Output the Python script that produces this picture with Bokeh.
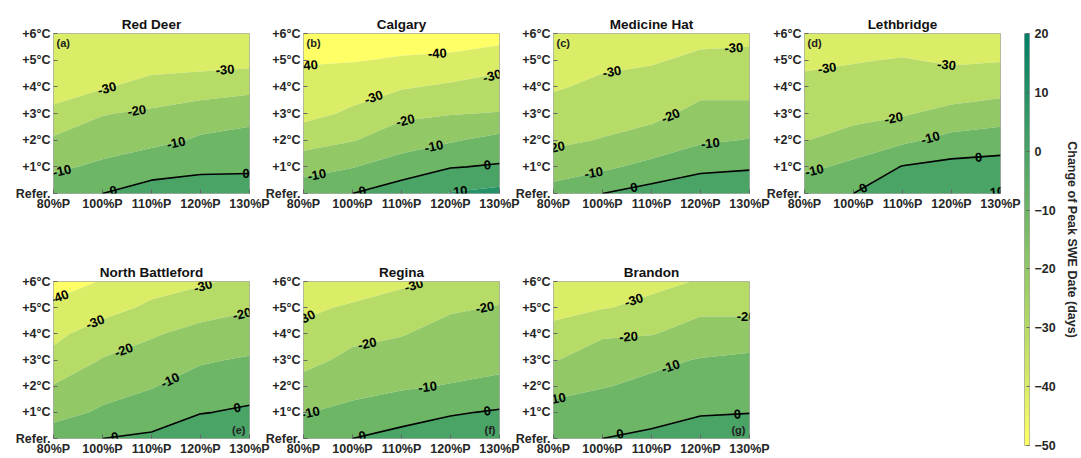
import math
import numpy as np
from bokeh.plotting import figure
from bokeh.layouts import row, column
from bokeh.models import FixedTicker, Label, LinearColorMapper, ColumnDataSource
from bokeh.embed import file_html
from bokeh.resources import INLINE
from bokeh.core.properties import value

FONT = "Liberation Sans"

precip_labels = ["80%P", "100%P", "110%P", "120%P", "130%P"]
temp_labels = ["Refer.", "+1°C", "+2°C", "+3°C", "+4°C", "+5°C", "+6°C"]
levels = [-50, -40, -30, -20, -10, 0, 10, 20]
cbar_ticks = [-50, -40, -30, -20, -10, 0, 10, 20]

# Change of peak SWE date (days); each inner list = one precipitation scenario,
# values for Refer., +1 .. +6 degC
red_deer = [
    [-3, -12, -18.5, -28, -34, -36, -38],
    [0, -8, -15, -20.5, -31, -35, -38],
    [4, -4, -12.5, -18.5, -26, -35, -38],
    [5, -2, -9, -14, -26, -33, -37],
    [6, -2, -7, -13, -23, -33, -37],
]
calgary = [
    [-4, -14, -24, -33, -36, -41, -44],
    [0, -10.5, -20.5, -28.5, -34, -40.5, -44],
    [5, -5, -15, -22, -31, -39, -45],
    [10.5, -0.5, -11, -20.5, -28.5, -38, -45],
    [13, 1, -7, -19.5, -27.5, -32.5, -46],
]
medicine_hat = [
    [-6, -15, -22, -26, -31, -34, -37],
    [0, -12, -19.5, -24, -28, -32, -36],
    [4, -7, -17, -22, -26, -31, -35],
    [6, -2, -11.5, -18, -22, -28, -33],
    [7, -1, -9.5, -17, -23, -28, -32],
]
lethbridge = [
    [-3, -12, -20.5, -25, -28, -31.5, -35],
    [0, -8, -15, -24, -27, -30.5, -34],
    [8, 0.5, -12, -21, -26, -29.5, -34],
    [9, 3, -7, -17, -26, -31, -35],
    [10.5, 3, -4, -16, -23, -30.5, -34],
]
north_battleford = [
    [-4, -14, -19.5, -27, -32.5, -38, -44],
    [0, -8.5, -14, -19.5, -25, -34, -39.5],
    [2, -6, -10.5, -16, -21, -28, -34.5],
    [8, -0.5, -6, -11, -17, -24, -31.5],
    [9, 1.5, -4, -9, -15, -21, -27],
]
regina = [
    [-2, -10.5, -17, -22.5, -28, -31.5, -35],
    [0, -7.5, -13, -18, -22, -29, -34],
    [4, -5, -11, -16, -20.5, -25, -32],
    [6, -1, -9.5, -14, -17, -21, -28],
    [8, 1, -7.5, -13, -16, -19.5, -24],
]
brandon = [
    [-2, -7, -13, -20.5, -27, -33, -37],
    [0, -5, -10.5, -16, -21, -30.5, -34],
    [3, -5, -8, -12, -20.5, -28, -32],
    [6, -1, -5, -9.5, -16, -22, -29.5],
    [7, -0.3, -4, -8.5, -14, -23, -26],
]

# contour label placement: (level, precipitation position)
red_deer_labels = [(-10, 0.17), (0, 1.22), (-30, 1.09), (-20, 1.7), (-10, 2.5), (-30, 3.5), (0, 3.93)]
calgary_labels = [(-10, 0.27), (0, 1.2), (-40, 0.1), (-30, 1.43), (-20, 2.08), (-10, 2.66),
                  (-40, 2.73), (-30, 3.85), (0, 3.75), (10, 3.2)]
medicine_hat_labels = [(-20, 0.04), (-10, 0.82), (0, 1.64), (-30, 1.19), (-20, 2.39), (-10, 3.2), (-30, 3.68)]
lethbridge_labels = [(-10, 0.2), (0, 1.2), (-30, 0.46), (-20, 1.82), (-10, 2.57), (-30, 2.9), (0, 3.55), (10, 3.93)]
north_battleford_labels = [(-40, 0.12), (-30, 0.85), (-20, 1.43), (-10, 2.38), (-30, 3.05), (-20, 3.85),
                           (0, 1.25), (0, 3.75)]
regina_labels = [(-10, 0.14), (-30, 0.05), (0, 1.2), (-20, 1.3), (-30, 2.25), (-10, 2.53), (-20, 3.7), (0, 3.75)]
brandon_labels = [(-10, 0.06), (0, 1.36), (-30, 1.64), (-20, 1.53), (-10, 2.39), (-20, 3.93), (0, 3.75)]


def summer_r(v):
    t = (20.0 - v) / 70.0
    t = min(max(t, 0.0), 1.0)
    r, g, b = t, 0.5 + 0.5 * t, 0.4
    return "#%02x%02x%02x" % (int(round(r * 255)), int(round(g * 255)), int(round(b * 255)))


band_colors = [summer_r(l) for l in levels[:-1]]
cmap256 = [summer_r(v) for v in np.linspace(-50, 20, 256)]


def crossing_y(z, xq, level):
    nx = z.shape[1]
    i = min(int(math.floor(xq)), nx - 2)
    f = xq - i
    prof = z[:, i] * (1 - f) + z[:, i + 1] * f
    for j in range(len(prof) - 1):
        a, b = prof[j] - level, prof[j + 1] - level
        if a == 0:
            return float(j)
        if a * b < 0:
            return j + a / (a - b)
    if prof[-1] == level:
        return float(len(prof) - 1)
    return None


FRAME_W = 196
RIGHT_B = 30
OVERLAP = 21


def make_panel(title, data, labels, letter, top_row, border_left, first):
    z = np.array(data, dtype=float).T  # (temperature, precipitation)
    xs = np.arange(len(precip_labels))
    ys = np.arange(len(temp_labels))
    if top_row:
        h, bt, bb = 248, 33, 55
    else:
        h, bt, bb = 210, 33, 18
    width = border_left + FRAME_W + RIGHT_B
    p = figure(width=width, height=h, x_range=(0, 4), y_range=(0, 6),
               toolbar_location=None, output_backend="svg",
               min_border_left=border_left, min_border_right=RIGHT_B,
               min_border_top=bt, min_border_bottom=bb,
               margin=(0, 0, 0, 0 if first else -OVERLAP))
    p.border_fill_color = None
    p.background_fill_color = None
    frame_h = h - bt - bb
    ppx, ppy = FRAME_W / 4.0, frame_h / 6.0
    p.contour(x=xs, y=ys, z=z, levels=levels, fill_color=band_colors)
    p.contour(x=xs, y=ys, z=z, levels=[0], line_color="black", line_width=1.6)

    lx, ly, lt, la = [], [], [], []
    for lev, xq in labels:
        yq = crossing_y(z, xq, lev)
        if yq is None:
            continue
        x1, x2 = max(xq - 0.15, 0.0), min(xq + 0.15, 4.0)
        y1, y2 = crossing_y(z, x1, lev), crossing_y(z, x2, lev)
        ang = 0.0
        if y1 is not None and y2 is not None:
            ang = math.atan2((y2 - y1) * ppy, (x2 - x1) * ppx)
        lx.append(xq)
        ly.append(yq)
        lt.append(str(lev))
        la.append(ang)
    src = ColumnDataSource(dict(x=lx, y=ly, text=lt, angle=la))
    p.text(x="x", y="y", text="text", angle="angle", source=src,
           text_font=value(FONT), text_font_style="bold", text_font_size="13px",
           text_align="center", text_baseline="middle", text_color="black")

    if top_row:
        p.add_layout(Label(x=0, y=6, x_offset=3, y_offset=-3, text=letter, text_baseline="top",
                           text_font=FONT, text_font_style="bold", text_font_size="11px",
                           text_color="#222222"))
    else:
        p.add_layout(Label(x=4, y=0, x_offset=-4, y_offset=3, text=letter, text_baseline="bottom",
                           text_align="right", text_font=FONT, text_font_style="bold",
                           text_font_size="11px", text_color="#222222"))

    p.title.text = title
    p.title.align = "center"
    p.title.text_font = FONT
    p.title.text_font_style = "bold"
    p.title.text_font_size = "13.5px"
    p.title.text_color = "#111111"
    p.title.standoff = 4

    p.xaxis.ticker = FixedTicker(ticks=list(range(len(precip_labels))))
    p.xaxis.major_label_overrides = {i: s for i, s in enumerate(precip_labels)}
    p.yaxis.ticker = FixedTicker(ticks=list(range(len(temp_labels))))
    p.yaxis.major_label_overrides = {i: s for i, s in enumerate(temp_labels)}
    for ax in (p.xaxis[0], p.yaxis[0]):
        ax.axis_line_color = None
        ax.major_tick_in = 4
        ax.major_tick_out = 0
        ax.major_tick_line_color = "#666666"
        ax.minor_tick_line_color = None
        ax.major_label_text_font = FONT
        ax.major_label_text_font_style = "bold"
        ax.major_label_text_font_size = "12.5px"
        ax.major_label_text_color = "#262626"
        ax.major_label_standoff = 3
    p.grid.visible = False
    p.outline_line_color = "#a8a8a8"
    p.outline_line_width = 1
    return p


pa = make_panel("Red Deer", red_deer, red_deer_labels, "(a)", True, 53, True)
pb = make_panel("Calgary", calgary, calgary_labels, "(b)", True, 45, False)
pc = make_panel("Medicine Hat", medicine_hat, medicine_hat_labels, "(c)", True, 45, False)
pd = make_panel("Lethbridge", lethbridge, lethbridge_labels, "(d)", True, 46, False)
pe = make_panel("North Battleford", north_battleford, north_battleford_labels, "(e)", False, 53, True)
pf = make_panel("Regina", regina, regina_labels, "(f)", False, 45, False)
pg = make_panel("Brandon", brandon, brandon_labels, "(g)", False, 45, False)

cb = figure(width=72, height=458, x_range=(0, 1), y_range=(-50, 20), y_axis_location="right",
            toolbar_location=None, output_backend="svg",
            min_border_left=15, min_border_top=33, min_border_bottom=13, min_border_right=40,
            margin=(0, 0, 0, -OVERLAP))
cb.border_fill_color = None
grad = np.linspace(-50, 20, 256).reshape(-1, 1)
cb.image(image=[grad], x=0, y=-50, dw=1, dh=70,
         color_mapper=LinearColorMapper(palette=cmap256, low=-50, high=20))
cb.xaxis.visible = False
cb.grid.visible = False
cb.outline_line_color = "#a8a8a8"
yax = cb.yaxis[0]
yax.ticker = FixedTicker(ticks=cbar_ticks)
yax.axis_label = "Change of Peak SWE Date (days)"
yax.axis_label_text_font = FONT
yax.axis_label_text_font_style = "bold"
yax.axis_label_text_font_size = "12.5px"
yax.axis_label_text_color = "#262626"
yax.axis_label_standoff = 6
yax.axis_line_color = None
yax.major_tick_in = 3
yax.major_tick_out = 0
yax.major_tick_line_color = "#666666"
yax.minor_tick_line_color = None
yax.major_label_text_font = FONT
yax.major_label_text_font_style = "bold"
yax.major_label_text_font_size = "12.5px"
yax.major_label_text_color = "#262626"
yax.major_label_standoff = 5

grid = row(column(row(pa, pb, pc, pd), row(pe, pf, pg)), cb)

open("out.html", "w").write(file_html(grid, INLINE))
